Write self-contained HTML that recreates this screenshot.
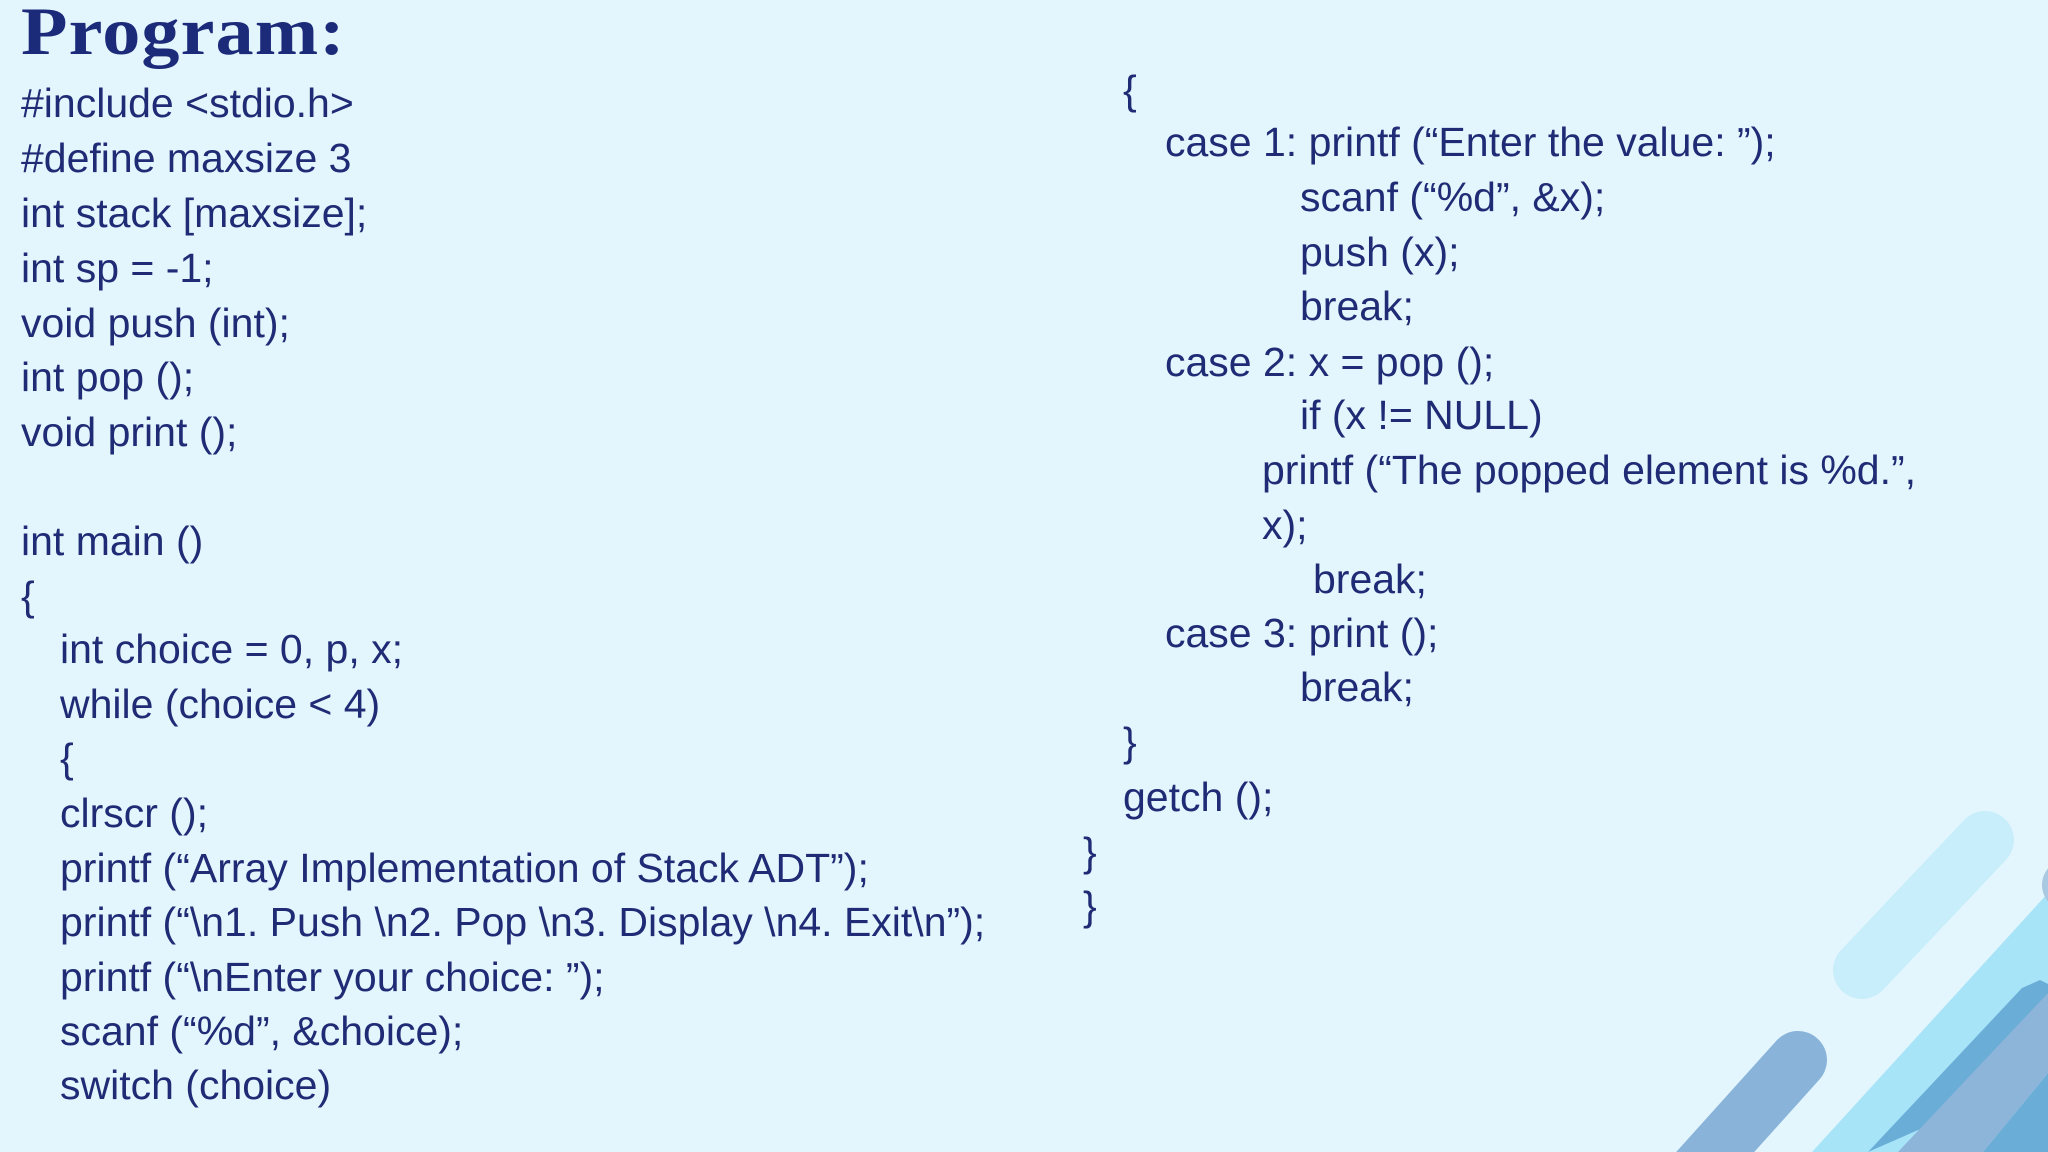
<!DOCTYPE html>
<html><head><meta charset="utf-8"><style>
html,body{margin:0;padding:0}
body{width:2048px;height:1152px;background:#e4f6fd;position:relative;overflow:hidden;font-family:"Liberation Sans",sans-serif;color:#1f2b75}
.t{position:absolute;left:21px;top:-8px;font-family:"Liberation Serif",serif;font-weight:bold;font-size:68px;color:#1c2a7a;white-space:nowrap;transform:scaleX(1.12);transform-origin:0 0;letter-spacing:1px}
.l{position:absolute;height:54px;line-height:54px;font-size:41px;white-space:nowrap}
svg{position:absolute;left:0;top:0}
</style></head><body>
<svg width="2048" height="1152">
<line x1="1985" y1="840" x2="1862" y2="970" stroke="#c9eefb" stroke-width="58" stroke-linecap="round"/>
<line x1="1798" y1="1060" x2="1690" y2="1180" stroke="#8ab3da" stroke-width="58" stroke-linecap="round"/>
<polygon points="1812,1152 2048,893 2048,1073 1983,1152" fill="#a8e4f8"/>
<polygon points="2010,1152 2048,1110 2048,1152" fill="#a8e4f8"/>
<polygon points="1868,1152 2022,988 2040,980 2048,984 2048,1152 1983,1152 2048,1073" fill="#6aaed8"/>
<polygon points="1898,1152 2048,993 2048,1073 1983,1152" fill="#8db4d9"/>
<circle cx="2068" cy="885" r="26" fill="#a9c9e3"/>
</svg>
<div class="t">Program:</div>
<div class="l" style="left:21px;top:76px">#include &lt;stdio.h&gt;</div>
<div class="l" style="left:21px;top:131px">#define maxsize 3</div>
<div class="l" style="left:21px;top:186px">int stack [maxsize];</div>
<div class="l" style="left:21px;top:241px">int sp = -1;</div>
<div class="l" style="left:21px;top:296px">void push (int);</div>
<div class="l" style="left:21px;top:350px">int pop ();</div>
<div class="l" style="left:21px;top:405px">void print ();</div>
<div class="l" style="left:21px;top:514px">int main ()</div>
<div class="l" style="left:21px;top:569px">{</div>
<div class="l" style="left:60px;top:622px">int choice = 0, p, x;</div>
<div class="l" style="left:60px;top:677px">while (choice &lt; 4)</div>
<div class="l" style="left:60px;top:731px">{</div>
<div class="l" style="left:60px;top:786px">clrscr ();</div>
<div class="l" style="left:60px;top:841px">printf (“Array Implementation of Stack ADT”);</div>
<div class="l" style="left:60px;top:895px">printf (“\n1. Push \n2. Pop \n3. Display \n4. Exit\n”);</div>
<div class="l" style="left:60px;top:950px">printf (“\nEnter your choice: ”);</div>
<div class="l" style="left:60px;top:1004px">scanf (“%d”, &amp;choice);</div>
<div class="l" style="left:60px;top:1058px">switch (choice)</div>

<div class="l" style="left:1123px;top:63px">{</div>
<div class="l" style="left:1165px;top:115px">case 1: printf (“Enter the value: ”);</div>
<div class="l" style="left:1300px;top:170px">scanf (“%d”, &amp;x);</div>
<div class="l" style="left:1300px;top:225px">push (x);</div>
<div class="l" style="left:1300px;top:279px">break;</div>
<div class="l" style="left:1165px;top:335px">case 2: x = pop ();</div>
<div class="l" style="left:1300px;top:388px">if (x != NULL)</div>
<div class="l" style="left:1262px;top:443px">printf (“The popped element is %d.”,</div>
<div class="l" style="left:1262px;top:498px">x);</div>
<div class="l" style="left:1313px;top:552px">break;</div>
<div class="l" style="left:1165px;top:606px">case 3: print ();</div>
<div class="l" style="left:1300px;top:660px">break;</div>
<div class="l" style="left:1123px;top:715px">}</div>
<div class="l" style="left:1123px;top:770px">getch ();</div>
<div class="l" style="left:1083px;top:825px">}</div>
<div class="l" style="left:1083px;top:879px">}</div>
</body></html>
